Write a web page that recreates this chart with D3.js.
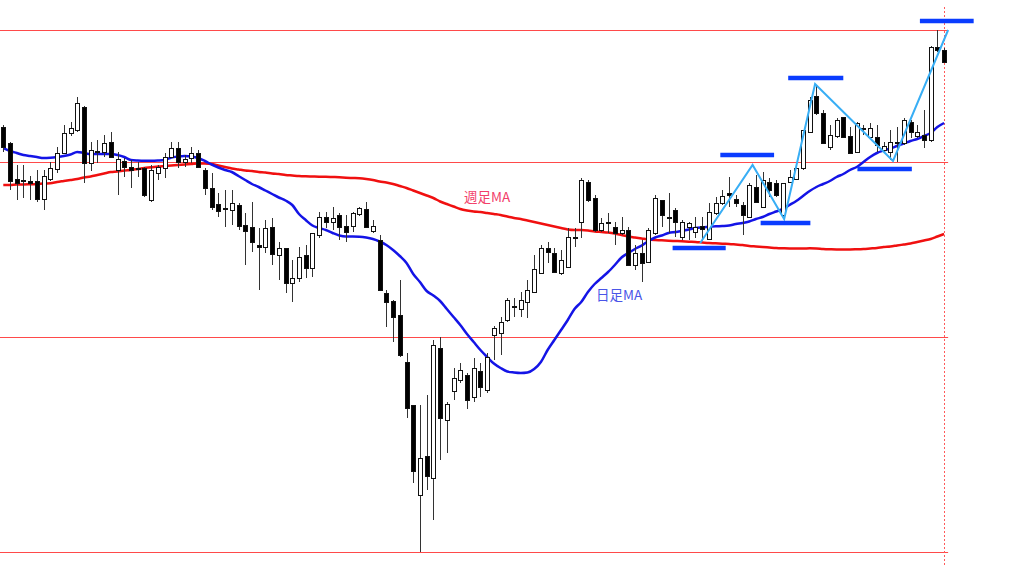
<!DOCTYPE html>
<html><head><meta charset="utf-8">
<script src="https://cdn.jsdelivr.net/npm/d3@7"></script>
<style>html,body{margin:0;padding:0;background:#fff;overflow:hidden}svg{display:block}</style>
</head><body><svg id="c" width="1024" height="576"></svg>
<script>
// ---- data (price units) ----
const opens = [144.73,144.57,144.21,144.19,144.19,144.19,144.01,144.21,144.31,144.47,
144.67,144.70,144.93,144.37,144.49,144.48,144.58,144.30,144.39,144.33,
144.31,144.32,144.00,144.27,144.32,144.43,144.52,144.38,144.42,144.47,
144.30,144.12,143.96,143.91,143.90,143.95,143.75,143.73,143.55,143.53,
143.73,143.45,143.52,143.17,143.22,143.45,143.32,143.65,143.83,143.78,
143.85,143.74,143.74,143.86,143.91,143.69,143.60,143.07,142.99,142.85,
142.38,141.95,141.05,141.44,141.22,142.52,141.80,142.09,142.20,142.25,
142.03,142.29,142.10,142.65,142.67,142.80,142.94,142.91,142.98,143.08,
143.27,143.52,143.47,143.27,143.33,143.62,143.78,144.18,144.02,143.70,
143.77,143.73,143.67,143.70,143.35,143.47,143.38,143.67,144.00,143.82,
143.90,143.63,143.73,143.68,143.74,143.61,143.87,143.97,144.07,144.01,
143.95,143.83,144.13,143.93,144.18,144.17,143.85,144.18,144.21,144.32,
144.68,145.04,144.87,144.53,144.64,144.83,144.64,144.48,144.71,144.63,
144.63,144.50,144.48,144.58,144.57,144.78,144.64,144.65,144.60,145.53,
145.50];
const highs = [144.75,144.58,144.35,144.35,144.24,144.30,144.30,144.38,144.53,144.75,
144.78,145.03,144.94,144.58,144.60,144.65,144.68,144.48,144.42,144.40,
144.38,144.33,144.35,144.35,144.47,144.58,144.58,144.45,144.53,144.50,
144.32,144.27,144.07,144.10,144.10,143.97,143.87,143.98,143.72,143.80,
143.82,143.58,143.52,143.40,143.53,143.55,143.67,143.88,143.88,143.93,
143.87,143.85,143.88,143.93,143.98,143.80,143.65,143.10,143.00,143.20,
142.47,141.95,141.95,142.05,142.60,142.63,141.98,142.32,142.37,142.27,
142.42,142.37,142.47,142.74,142.83,143.02,143.02,143.08,143.20,143.45,
143.55,143.58,143.52,143.50,143.72,143.72,144.22,144.20,144.05,143.82,
143.87,143.78,143.83,143.73,143.55,143.60,143.72,144.05,144.00,144.07,
143.92,143.80,143.78,143.83,143.83,143.97,144.03,144.10,144.23,144.05,
143.98,144.17,144.25,144.28,144.22,144.20,144.17,144.30,144.37,144.70,
145.03,145.15,144.90,144.75,144.82,144.83,144.73,144.78,144.75,144.77,
144.75,144.58,144.70,144.73,144.82,144.80,144.75,144.90,145.54,145.70,
145.52];
const lows = [144.48,144.10,144.00,144.02,144.00,143.98,143.90,144.19,144.27,144.46,
144.64,144.68,144.17,144.29,144.37,144.43,144.42,144.05,144.23,144.12,
144.23,144.03,143.98,144.20,144.22,144.42,144.32,144.33,144.37,144.32,
144.05,143.90,143.83,143.73,143.75,143.70,143.35,143.48,143.10,143.47,
143.35,143.20,143.07,142.98,143.18,143.22,143.23,143.62,143.72,143.70,
143.60,143.58,143.68,143.84,143.73,143.67,143.10,142.73,142.58,142.43,
141.82,141.17,140.48,141.10,140.80,141.40,141.47,142.00,142.17,141.91,
141.98,142.03,142.07,142.40,142.45,142.78,142.83,142.83,142.82,143.07,
143.27,143.37,143.27,143.25,143.33,143.53,143.62,143.98,143.68,143.68,
143.67,143.55,143.65,143.35,143.30,143.18,143.37,143.65,143.73,143.67,
143.63,143.60,143.60,143.62,143.59,143.60,143.85,143.95,143.93,143.93,
143.65,143.82,143.97,143.93,144.03,144.03,143.83,144.17,144.20,144.30,
144.67,144.85,144.57,144.50,144.62,144.62,144.47,144.48,144.65,144.62,
144.48,144.47,144.40,144.38,144.55,144.62,144.62,144.52,144.58,145.48,
145.37];
const closes = [144.53,144.19,144.17,144.20,144.17,144.01,144.24,144.32,144.47,144.67,
144.72,144.97,144.37,144.50,144.48,144.57,144.43,144.41,144.33,144.30,
144.32,144.05,144.30,144.33,144.43,144.52,144.38,144.41,144.47,144.33,
144.12,143.93,143.89,143.92,143.97,143.74,143.69,143.58,143.53,143.72,
143.46,143.52,143.17,143.22,143.43,143.32,143.67,143.83,143.78,143.82,
143.73,143.68,143.87,143.92,143.73,143.74,143.10,142.98,142.83,142.45,
141.92,141.29,141.42,141.24,142.55,141.82,141.96,142.22,142.30,142.00,
142.32,142.13,142.43,142.72,142.78,143.00,142.93,143.00,143.10,143.31,
143.52,143.48,143.28,143.40,143.63,143.63,144.20,144.00,143.70,143.77,
143.78,143.67,143.70,143.35,143.47,143.37,143.70,144.02,143.85,143.83,
143.78,143.78,143.77,143.73,143.71,143.88,143.97,144.04,144.05,143.97,
143.85,144.15,143.98,144.20,144.10,144.05,144.17,144.23,144.32,144.70,
145.00,144.87,144.57,144.65,144.80,144.63,144.47,144.77,144.72,144.72,
144.55,144.54,144.58,144.57,144.80,144.68,144.68,144.60,145.53,145.50,
145.38];
// daily moving average (日足MA), one value per candle
const maDaily = [144.52,144.49,144.47,144.45,144.44,144.43,144.42,144.423,144.43,144.44,
144.455,144.48,144.47,144.46,144.46,144.46,144.46,144.45,144.43,144.40,
144.395,144.393,144.393,144.395,144.40,144.425,144.435,144.44,144.435,144.42,
144.39,144.355,144.325,144.30,144.28,144.24,144.20,144.16,144.13,144.095,
144.06,144.025,143.995,143.95,143.86,143.80,143.745,143.72,143.70,143.67,
143.645,143.635,143.635,143.633,143.625,143.61,143.585,143.55,143.50,143.44,
143.37,143.26,143.18,143.09,143.045,142.99,142.91,142.83,142.75,142.66,
142.58,142.50,142.43,142.365,142.32,142.285,142.275,142.27,142.275,142.31,
142.38,142.50,142.60,142.70,142.80,142.91,142.98,143.08,143.16,143.22,
143.28,143.35,143.425,143.47,143.51,143.545,143.59,143.625,143.645,143.67,
143.68,143.69,143.705,143.72,143.727,143.732,143.737,143.74,143.745,143.76,
143.77,143.785,143.81,143.83,143.86,143.885,143.91,143.95,143.99,144.04,
144.09,144.13,144.16,144.19,144.23,144.26,144.30,144.33,144.38,144.43,
144.47,144.495,144.515,144.54,144.565,144.59,144.61,144.64,144.67,144.73,
144.77];
// weekly moving average (週足MA), one value per candle
const maWeekly = [144.15,144.15,144.155,144.155,144.157,144.16,144.165,144.167,144.18,144.19,
144.20,144.21,144.225,144.235,144.25,144.265,144.28,144.285,144.295,144.30,
144.31,144.32,144.327,144.335,144.34,144.345,144.35,144.355,144.36,144.365,
144.365,144.36,144.345,144.33,144.315,144.305,144.295,144.29,144.28,144.275,
144.265,144.26,144.25,144.245,144.24,144.237,144.235,144.233,144.233,144.23,
144.227,144.223,144.22,144.217,144.21,144.20,144.185,144.175,144.16,144.14,
144.12,144.095,144.07,144.045,144.02,143.985,143.96,143.935,143.91,143.895,
143.885,143.88,143.87,143.86,143.85,143.835,143.82,143.81,143.795,143.78,
143.765,143.75,143.735,143.72,143.705,143.70,143.70,143.695,143.685,143.68,
143.675,143.665,143.65,143.635,143.625,143.615,143.605,143.60,143.597,143.593,
143.59,143.587,143.583,143.58,143.575,143.57,143.567,143.563,143.56,143.555,
143.55,143.54,143.535,143.53,143.525,143.52,143.517,143.515,143.515,143.515,
143.517,143.515,143.51,143.507,143.505,143.505,143.505,143.507,143.51,143.515,
143.52,143.53,143.535,143.545,143.555,143.565,143.58,143.595,143.61,143.635,
143.66];
// horizontal price levels
const levels = [145.70, 144.38, 142.63, 140.48];
// zig-zag wave (bar position, price)
const zigIdx = [103.7, 111.5, 116.2, 120.8, 132.4, 140.6];
const zigPrice = [143.57, 144.35, 143.81, 145.16, 144.39, 145.70];
// blue highs/lows markers
const markStart = [99.6, 106.7, 112.7, 116.8, 127.1, 136.4];
const markEnd   = [107.5, 114.7, 120.1, 125.0, 135.2, 144.4];
const markPrice = [143.52, 144.45, 143.77, 145.22, 144.31, 145.79];
const labelWeekly = "週足MA", labelDaily = "日足MA";

// ---- drawing ----
const svg = d3.select("#c");
const n = opens.length;
const x = d3.scaleLinear().domain([0, n - 1]).range([3.3, 944.1]);
const y = d3.scaleLinear().domain([140.24, 146]).range([576, 0]);
const lastX = x(n - 1);
const lineEnd = x(140.6);

// level lines
svg.append("g").selectAll("line").data(levels).join("line")
  .attr("x1", 0).attr("x2", lineEnd)
  .attr("y1", d => Math.round(y(d)) + 0.5).attr("y2", d => Math.round(y(d)) + 0.5)
  .attr("stroke", "#ff4a4a").attr("stroke-width", 1);

// vertical dashed line at last bar
svg.append("line")
  .attr("x1", Math.round(lastX) + 0.5).attr("x2", Math.round(lastX) + 0.5)
  .attr("y1", 7).attr("y2", 566)
  .attr("stroke", "#ff5a5a").attr("stroke-width", 1).attr("stroke-dasharray", "2,2");

// MA lines
const maLine = arr => d3.line().x((d, i) => x(i)).y(d => y(d)).curve(d3.curveMonotoneX)(arr);
svg.append("path").attr("d", maLine(maWeekly)).attr("fill", "none")
  .attr("stroke", "#f01010").attr("stroke-width", 2.5);
svg.append("path").attr("d", maLine(maDaily)).attr("fill", "none")
  .attr("stroke", "#1414e6").attr("stroke-width", 2.5);

// candles
const idx = d3.range(n);
const g = svg.append("g");
g.selectAll("line.w").data(idx).join("line").attr("class", "w")
  .attr("x1", i => Math.round(x(i)) + 0.5).attr("x2", i => Math.round(x(i)) + 0.5)
  .attr("y1", i => y(highs[i])).attr("y2", i => y(lows[i]))
  .attr("stroke", "#333").attr("stroke-width", 1);
g.selectAll("rect").data(idx).join("rect")
  .attr("x", i => Math.round(x(i)) - 1.5)
  .attr("width", 4)
  .attr("y", i => Math.round(y(Math.max(opens[i], closes[i]))) + 0.5)
  .attr("height", i => Math.max(1, Math.round(Math.abs(y(opens[i]) - y(closes[i])))))
  .attr("fill", i => closes[i] >= opens[i] ? "#fff" : "#000")
  .attr("stroke", "#111").attr("stroke-width", 1);

// zig-zag
svg.append("path")
  .attr("d", d3.line().x(d => x(d[0])).y(d => y(d[1]))(zigIdx.map((v, i) => [v, zigPrice[i]])))
  .attr("fill", "none").attr("stroke", "#38aef5").attr("stroke-width", 2);

// markers
svg.append("g").selectAll("line").data(markPrice).join("line")
  .attr("x1", (d, i) => x(markStart[i])).attr("x2", (d, i) => x(markEnd[i]))
  .attr("y1", d => y(d)).attr("y2", d => y(d))
  .attr("stroke", "#0a3cff").attr("stroke-width", 4.5);

// labels
svg.append("text").attr("x", 464).attr("y", 202).text(labelWeekly)
  .attr("font-family", "'Noto Sans CJK JP', 'Noto Sans', sans-serif").attr("font-size", 13.5)
  .attr("fill", "#f2406a");
svg.append("text").attr("x", 596).attr("y", 300).text(labelDaily)
  .attr("font-family", "'Noto Sans CJK JP', 'Noto Sans', sans-serif").attr("font-size", 13.5)
  .attr("fill", "#4a55e8");
</script></body></html>
